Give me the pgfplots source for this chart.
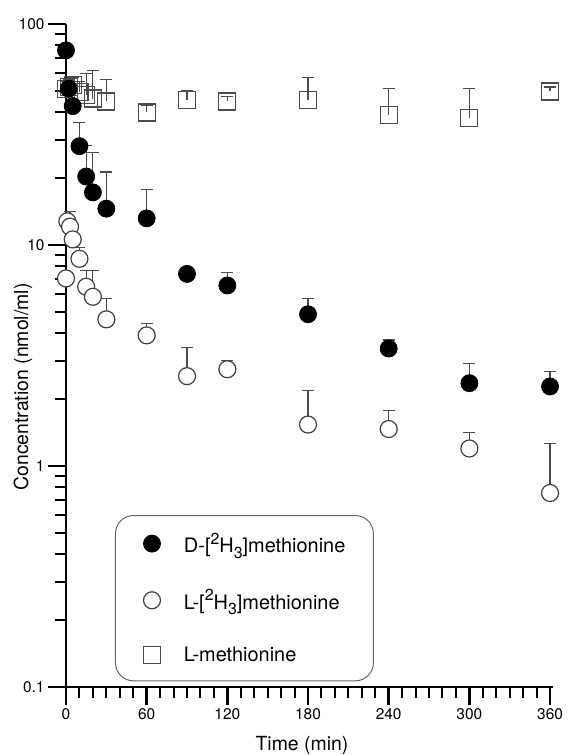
\documentclass[border=0pt]{standalone}
\usepackage{fontspec}
\setmainfont{TeX Gyre Heros}
\usepackage{pgfplots}
\pgfplotsset{compat=1.18}
\newcommand{\supr}[1]{\raisebox{0.42em}{\fontsize{16}{16}\selectfont #1}}
\newcommand{\subr}[1]{\raisebox{-0.28em}{\fontsize{16}{16}\selectfont #1}}
\begin{document}
\begin{tikzpicture}
\begin{axis}[
  scale only axis, width=487bp, height=663bp,
  xmin=0, xmax=362.2, ymin=0.1, ymax=100, ymode=log,
  axis x line=bottom, axis y line=left,
  axis line style={-, line width=2.7bp},
  clip=false,
  xtick={0,60,...,360}, minor x tick num=5,
  ytick={0.1,1,10,100}, yticklabels={0.1,1,10,100},
  minor ytick={0.2,0.3,0.4,0.5,0.6,0.7,0.8,0.9,2,3,4,5,6,7,8,9,20,30,40,50,60,70,80,90},
  tick align=outside, major tick length=18bp, minor tick length=11bp,
  major tick style={line width=2.6bp, black},
  minor tick style={line width=2bp, black},
  tick label style={font=\fontsize{15.5}{18}\selectfont},
  /pgf/number format/assume math mode=true,
  xlabel={Time (min)}, ylabel={Concentration (nmol/ml)},
  label style={font=\fontsize{19.5}{22}\selectfont},
  xlabel style={at={(axis description cs:0.4846,-0.0961)}, anchor=base},
  ylabel style={at={(axis description cs:-0.0883,0.4525)}, anchor=center},
  reverse legend,
  legend cell align=left,
  legend image post style={sharp corners},
  legend style={at={(axis description cs:0.1006,0.2594)}, anchor=north west,
    draw=black!60, line width=1bp, rounded corners=18bp,
    inner xsep=28bp, inner ysep=17.5bp, row sep=35.5bp,
    font=\fontsize{20}{24}\selectfont,
    nodes={inner sep=0bp},
    column 2/.style={nodes={text height=15bp, text depth=0bp}},
    /tikz/every odd column/.append style={column sep=23.5bp}},
  error bars/error bar style={line width=1.2bp, black!70},
  error bars/error mark options={rotate=90, mark size=6bp, line width=1.2bp, black!70},
]
\coordinate (O) at (rel axis cs:0,0);
% L-methionine
\addplot+[only marks, mark=square, mark size=8.5bp, black!70, mark options={line width=1.2bp, black!70},
  error bars/.cd, y dir=plus, y explicit]
  table[x=t, y=v, y error=e] {
t v e
0 50.6 4.4
2 52 4
5 53 4.6
10 49.3 5.7
15 47.8 11.8
20 46 15.5
30 44.6 11.4
60 39.8 2.8
90 45.4 4.6
120 44.6 2.4
180 45.4 11.8
240 38.8 12.4
300 37.5 13.7
360 49.5 2.4
};
\addlegendentry{L-methionine}
% L-[2H3]methionine
\addplot+[only marks, mark=*, mark size=8.5bp, black!75, mark options={line width=1.2bp, draw=black!75, fill=white},
  error bars/.cd, y dir=plus, y explicit]
  table[x=t, y=v, y error=e] {
t v e
0 7.06 0.2
1 12.8 0.5
3 12.1 2.1
5 10.6 0.3
10 8.66 1.05
15 6.47 1.2
20 5.83 1.84
30 4.61 1.11
60 3.90 0.52
90 2.55 0.9
120 2.74 0.27
180 1.54 0.65
240 1.47 0.32
300 1.20 0.22
360 0.755 0.505
};
\addlegendentry{L-[\supr{2}H\subr{3}]methionine}
% D-[2H3]methionine
\addplot+[only marks, mark=*, mark size=8.5bp, black, mark options={line width=0.8bp, draw=black, fill=black},
  error bars/.cd, y dir=plus, y explicit]
  table[x=t, y=v, y error=e] {
t v e
0 76 4
2 51 4
5 42.5 2.5
10 28 7.9
15 20.4 7.9
20 17.3 9
30 14.6 6.8
60 13.2 4.6
90 7.4 0.2
120 6.56 0.98
180 4.86 0.86
240 3.40 0.32
300 2.37 0.54
360 2.29 0.39
};
\addlegendentry{D-[\supr{2}H\subr{3}]methionine}
\end{axis}
\pgfresetboundingbox
\path (O) ++(-66bp,-68bp) rectangle ++(568bp,755bp);
\end{tikzpicture}
\end{document}
